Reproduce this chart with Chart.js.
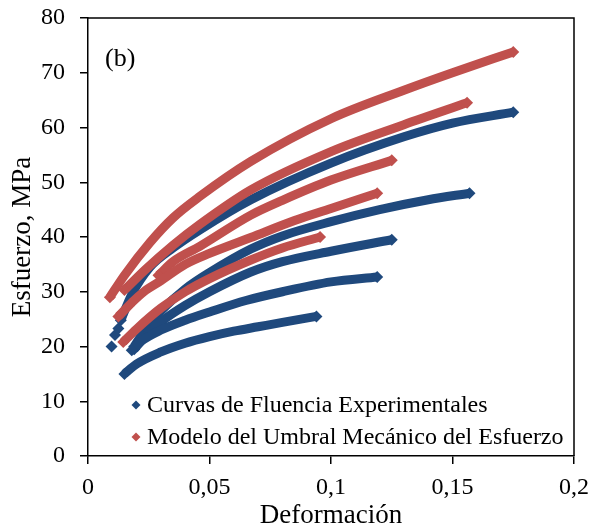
<!DOCTYPE html>
<html>
<head>
<meta charset="utf-8">
<script src="https://cdn.jsdelivr.net/npm/chart.js@4.4.1/dist/chart.umd.min.js"></script>
<style>
  html, body { margin: 0; padding: 0; background: #fff; }
</style>
</head>
<body>
<canvas id="flowChart" width="594" height="531"></canvas>
<script>
// axis ticks
const xTickValues = [0, 0.05, 0.1, 0.15, 0.2];
const xTickLabels = ['0', '0,05', '0,1', '0,15', '0,2'];
const yTickValues = [0, 10, 20, 30, 40, 50, 60, 70, 80];

const seriesNames = ['Curvas de Fluencia Experimentales', 'Modelo del Umbral Mecánico del Esfuerzo'];

// experimental flow curves [strain, stress MPa]
const exp1 = [[0.015, 15], [0.02, 16.8], [0.03, 19.0], [0.04, 20.6], [0.05, 21.8], [0.06, 22.8], [0.07, 23.6], [0.08, 24.4], [0.094, 25.5]];
const exp2 = [[0.018, 19.3], [0.022, 21], [0.03, 23], [0.04, 24.8], [0.05, 26.3], [0.065, 28.4], [0.08, 30.0], [0.1, 31.8], [0.119, 32.7]];
const exp3 = [[0.019, 19.5], [0.025, 22.5], [0.03, 24.5], [0.04, 27.5], [0.05, 30], [0.067, 33.6], [0.08, 35.5], [0.1, 37.4], [0.125, 39.5]];
const exp4 = [[0.019, 20], [0.025, 24], [0.03, 26.5], [0.04, 30.5], [0.05, 33.5], [0.067, 37.8], [0.08, 40.2], [0.1, 42.8], [0.12, 45], [0.14, 46.8], [0.157, 48]];
const exp5Start = [[0.0097, 20], [0.0111, 22.1], [0.0125, 23.3]];
const exp5 = [[0.0135, 24.8], [0.018, 29.5], [0.0255, 34.5], [0.035, 38], [0.046, 41.3], [0.067, 46.8], [0.1, 53.5], [0.13, 58.3], [0.15, 60.8], [0.175, 62.8]];

// threshold model curves
const mod1 = [[0.0145, 20.8], [0.02, 23.2], [0.03, 27], [0.04, 30], [0.05, 32.4], [0.067, 35.8], [0.08, 38], [0.0955, 40]];
const mod2 = [[0.0125, 25.5], [0.018, 28], [0.023, 30], [0.03, 32], [0.04, 35], [0.05, 37], [0.067, 39.9], [0.085, 43], [0.1, 45.2], [0.119, 48]];
const mod3 = [[0.029, 33], [0.035, 35.5], [0.046, 38.3], [0.067, 44], [0.08, 46.7], [0.1, 50.4], [0.125, 54]];
const mod4 = [[0.015, 30.3], [0.0235, 34], [0.035, 38.5], [0.046, 42.3], [0.067, 48.6], [0.1, 55.6], [0.13, 60.5], [0.156, 64.5]];
const mod5 = [[0.009, 29], [0.015, 33], [0.0255, 39], [0.035, 43.5], [0.046, 47.4], [0.067, 53.8], [0.1, 61.6], [0.13, 66.8], [0.15, 70], [0.175, 73.8]];

const BLUE = '#1F497D';
const RED = '#C0504D';
const FONT = '"Liberation Serif", "Times New Roman", serif';

const toPoints = (pairs) => pairs.map(([x, y]) => ({ x, y }));

// thick band with diamond tips at both ends
const curve = (pairs, color, order) => ({
  data: toPoints(pairs),
  showLine: true,
  borderColor: color,
  backgroundColor: color,
  borderWidth: 9,
  borderCapStyle: 'butt',
  cubicInterpolationMode: 'monotone',
  pointStyle: 'rectRot',
  pointBorderWidth: 0,
  pointRadius: (ctx) => (ctx.dataIndex === 0 || ctx.dataIndex === pairs.length - 1 ? 6 : 0),
  order
});

const datasets = [
  ...[mod1, mod2, mod3, mod4, mod5].map((c) => curve(c, RED, 0)),
  ...[exp1, exp2, exp3, exp4, exp5].map((c) => curve(c, BLUE, 1)),
  {
    data: toPoints(exp5Start),
    showLine: false,
    backgroundColor: BLUE,
    pointStyle: 'rectRot',
    pointBorderWidth: 0,
    pointRadius: 6,
    order: 1
  }
];

const drawDiamond = (ctx, x, y, r, color) => {
  ctx.beginPath();
  ctx.moveTo(x, y - r);
  ctx.lineTo(x + r, y);
  ctx.lineTo(x, y + r);
  ctx.lineTo(x - r, y);
  ctx.closePath();
  ctx.fillStyle = color;
  ctx.fill();
};

const framePlugin = {
  id: 'frame',
  beforeDatasetsDraw(chart) {
    const { ctx, chartArea: a } = chart;
    ctx.save();
    ctx.strokeStyle = '#000';
    ctx.lineWidth = 1.5;
    ctx.beginPath();
    ctx.moveTo(a.left, a.top);
    ctx.lineTo(a.right, a.top);
    ctx.lineTo(a.right, a.bottom);
    ctx.stroke();
    ctx.restore();
  },
  afterDraw(chart) {
    const { ctx } = chart;
    ctx.save();
    ctx.font = `24px ${FONT}`;
    ctx.textBaseline = 'middle';
    [BLUE, RED].forEach((color, i) => {
      const y = 405 + i * 32;
      drawDiamond(ctx, 136, y, 4.5, color);
      ctx.fillStyle = '#000';
      ctx.fillText(seriesNames[i], 147, y + 1);
    });
    ctx.font = `26px ${FONT}`;
    ctx.fillText('(b)', 105, 59);
    ctx.restore();
  }
};

const axisGrid = { drawOnChartArea: false, drawTicks: true, tickLength: 8, color: '#000', lineWidth: 1.5 };

new Chart(document.getElementById('flowChart'), {
  type: 'scatter',
  data: { datasets },
  options: {
    responsive: false,
    animation: false,
    events: [],
    layout: { padding: { top: 18, right: 20, left: 0, bottom: 0 } },
    plugins: { legend: { display: false }, tooltip: { enabled: false } },
    scales: {
      x: {
        type: 'linear',
        min: 0,
        max: 0.2,
        afterBuildTicks: (scale) => { scale.ticks = xTickValues.map((value) => ({ value })); },
        afterFit: (scale) => {
          scale.height = 75;
          scale.paddingLeft = 0;
          scale.paddingRight = 0;
        },
        ticks: {
          color: '#000',
          padding: 9,
          font: { family: FONT, size: 24 },
          callback: (value, index) => xTickLabels[index]
        },
        grid: axisGrid,
        border: { color: '#000', width: 1.5 },
        title: {
          display: true,
          text: 'Deformación',
          color: '#000',
          font: { family: FONT, size: 27, lineHeight: 1.1 },
          padding: { top: 0, bottom: 0 }
        }
      },
      y: {
        type: 'linear',
        min: 0,
        max: 80,
        afterBuildTicks: (scale) => { scale.ticks = yTickValues.map((value) => ({ value })); },
        afterFit: (scale) => {
          scale.width = 88;
          scale.paddingTop = 0;
          scale.paddingBottom = 0;
        },
        ticks: {
          color: '#000',
          padding: 15,
          font: { family: FONT, size: 24 }
        },
        grid: axisGrid,
        border: { color: '#000', width: 1.5 },
        title: {
          display: true,
          text: 'Esfuerzo, MPa',
          color: '#000',
          font: { family: FONT, size: 27, lineHeight: 1.1 },
          padding: { top: 8, bottom: 0 }
        }
      }
    }
  },
  plugins: [framePlugin]
});
</script>
</body>
</html>
